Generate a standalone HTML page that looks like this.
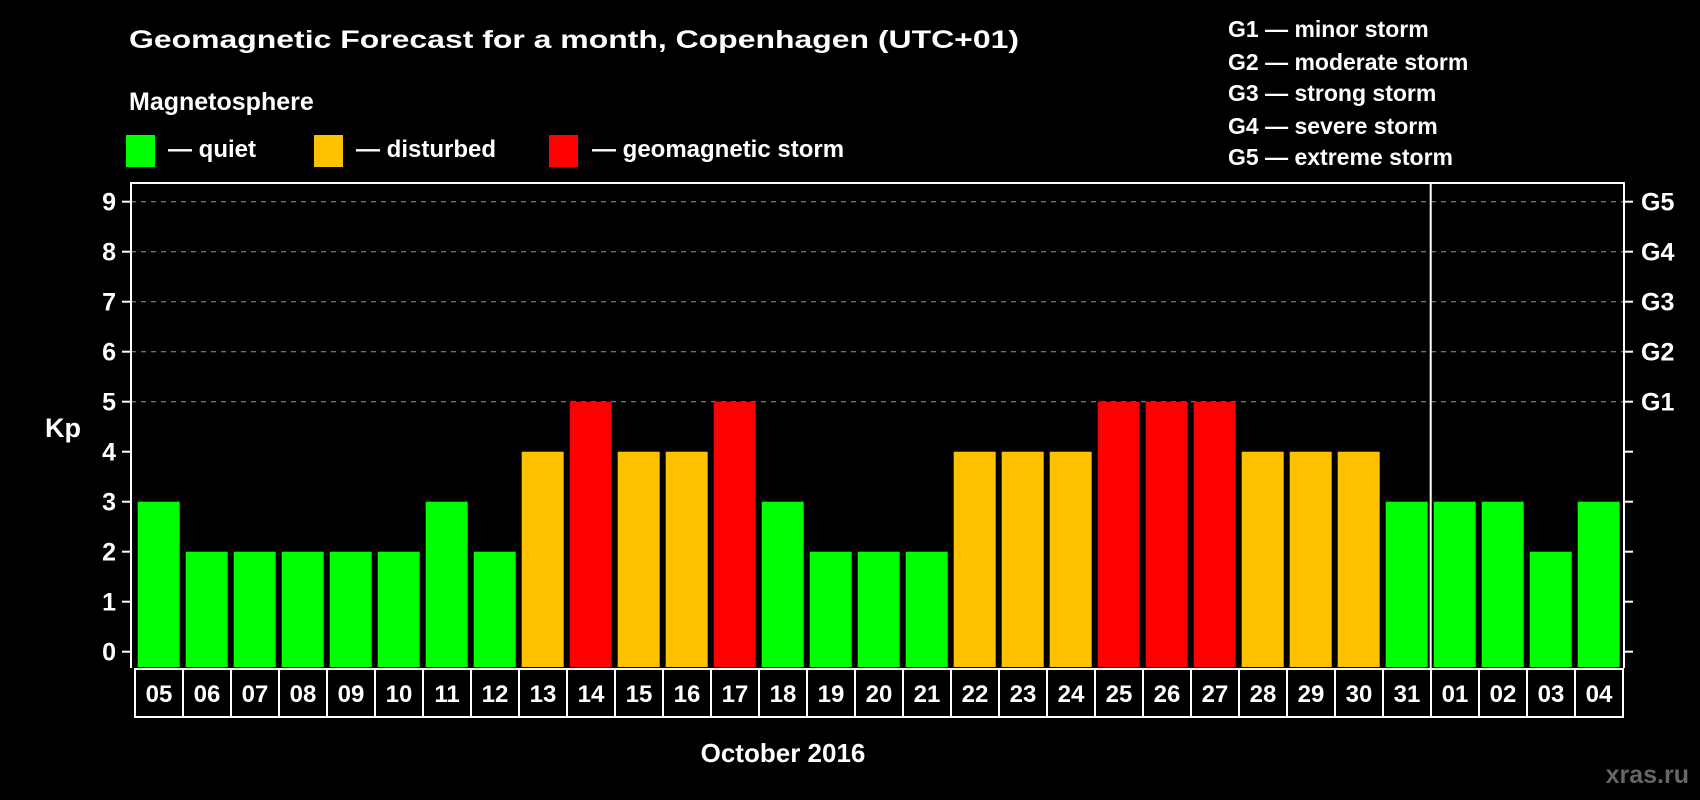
<!DOCTYPE html>
<html><head><meta charset="utf-8"><style>
html,body{margin:0;padding:0;background:#000;}
svg{display:block;font-family:"Liberation Sans",Arial,sans-serif;font-weight:bold;}
</style></head><body>
<svg id="chart" width="1700" height="800" viewBox="0 0 1700 800">
<rect x="0" y="0" width="1700" height="800" fill="#000"/>
<text x="129" y="48" fill="#fff" font-size="25" textLength="890" lengthAdjust="spacingAndGlyphs">Geomagnetic Forecast for a month, Copenhagen (UTC+01)</text>
<text x="129" y="110" fill="#fff" font-size="25">Magnetosphere</text>
<g>
<rect x="126" y="135" width="29" height="32" fill="#00ff00"/>
<text x="168" y="157" fill="#fff" font-size="24">— quiet</text>
</g>
<g>
<rect x="314" y="135" width="29" height="32" fill="#ffc000"/>
<text x="356" y="157" fill="#fff" font-size="24">— disturbed</text>
</g>
<g>
<rect x="549" y="135" width="29" height="32" fill="#ff0000"/>
<text x="592" y="157" fill="#fff" font-size="24">— geomagnetic storm</text>
</g>
<g fill="#fff" font-size="23">
<text x="1228" y="37">G1 — minor storm</text>
<text x="1228" y="70">G2 — moderate storm</text>
<text x="1228" y="101">G3 — strong storm</text>
<text x="1228" y="134">G4 — severe storm</text>
<text x="1228" y="165">G5 — extreme storm</text>
</g>
<text x="63" y="437" fill="#fff" font-size="27" text-anchor="middle">Kp</text>
<text x="783" y="762" fill="#fff" font-size="26" text-anchor="middle">October 2016</text>
<text x="1689" y="783" fill="#666" font-size="25" text-anchor="end">xras.ru</text>
<g id="grid"></g>
<g id="bars"></g>
<g id="axes"></g>
<g id="xlabels"></g>
</svg>
<script>
const days = ["05","06","07","08","09","10","11","12","13","14","15","16","17","18","19","20","21","22","23","24","25","26","27","28","29","30","31","01","02","03","04"];
const kpValues = [3,2,2,2,2,2,3,2,4,5,4,4,5,3,2,2,2,4,4,4,5,5,5,4,4,4,3,3,3,2,3];
const yTicks = [0,1,2,3,4,5,6,7,8,9];
const gLabels = ["G1","G2","G3","G4","G5"];
const gLevels = [5,6,7,8,9];
const monthBreakIndex = 27;

const NS = "http://www.w3.org/2000/svg";
const plotL = 131, plotR = 1624, plotT = 183, plotB = 668;
const band = 48, barW = 42, firstBar = 137.7;
function y(v){ return 651.7 - v*50; }
function xBand(i){ return firstBar + i*band; }
function mk(tag, attrs, parent){ const e=document.createElementNS(NS,tag); for(const k in attrs) e.setAttribute(k,attrs[k]); parent.appendChild(e); return e; }
function color(v){ return v>=5 ? "#ff0000" : (v>=4 ? "#ffc000" : "#00ff00"); }

const grid = document.getElementById("grid");
gLevels.forEach(v=>{
  const l = mk("line",{x1:plotL,x2:plotR,y1:y(v),y2:y(v),stroke:"#999","stroke-width":1,"stroke-dasharray":"5,5"},grid);
  
  
});

const bars = document.getElementById("bars");
kpValues.forEach((v,i)=>{
  const r = mk("rect",{x:xBand(i),y:y(v),width:barW,height:plotB-1-y(v),fill:color(v)},bars);
  
  
});

const axes = document.getElementById("axes");
const frame = mk("path",{d:`M${plotL},${plotB} V${plotT} H${plotR} V${plotB}`,fill:"none",stroke:"#fff","stroke-width":2},axes);


const sep = mk("line",{x1:xBand(monthBreakIndex)-3,x2:xBand(monthBreakIndex)-3,y1:plotT,y2:plotB,stroke:"#fff","stroke-width":2},axes);


yTicks.forEach(v=>{
  const t = mk("line",{x1:plotL-9,x2:plotL,y1:y(v),y2:y(v),stroke:"#fff","stroke-width":2},axes);
  
  
  const t2 = mk("line",{x1:plotR,x2:plotR+9,y1:y(v),y2:y(v),stroke:"#fff","stroke-width":2},axes);
  
  
  const lb = mk("text",{x:116,y:y(v)+9,fill:"#fff","font-size":25,"text-anchor":"end"},axes);
  lb.textContent = v;
  
  
});
gLabels.forEach((g,i)=>{
  const lb = mk("text",{x:1641,y:y(gLevels[i])+9,fill:"#fff","font-size":25},axes);
  lb.textContent = g;
  
  
});

const xl = document.getElementById("xlabels");
days.forEach((d,i)=>{
  const cx = 135 + i*band;
  const c = mk("rect",{x:cx,y:669,width:band,height:48,fill:"none",stroke:"#fff","stroke-width":2},xl);
  
  
  const t = mk("text",{x:cx+band/2,y:702,fill:"#fff","font-size":24,"text-anchor":"middle"},xl);
  t.textContent = d;
  
  
});
</script>
</body></html>
